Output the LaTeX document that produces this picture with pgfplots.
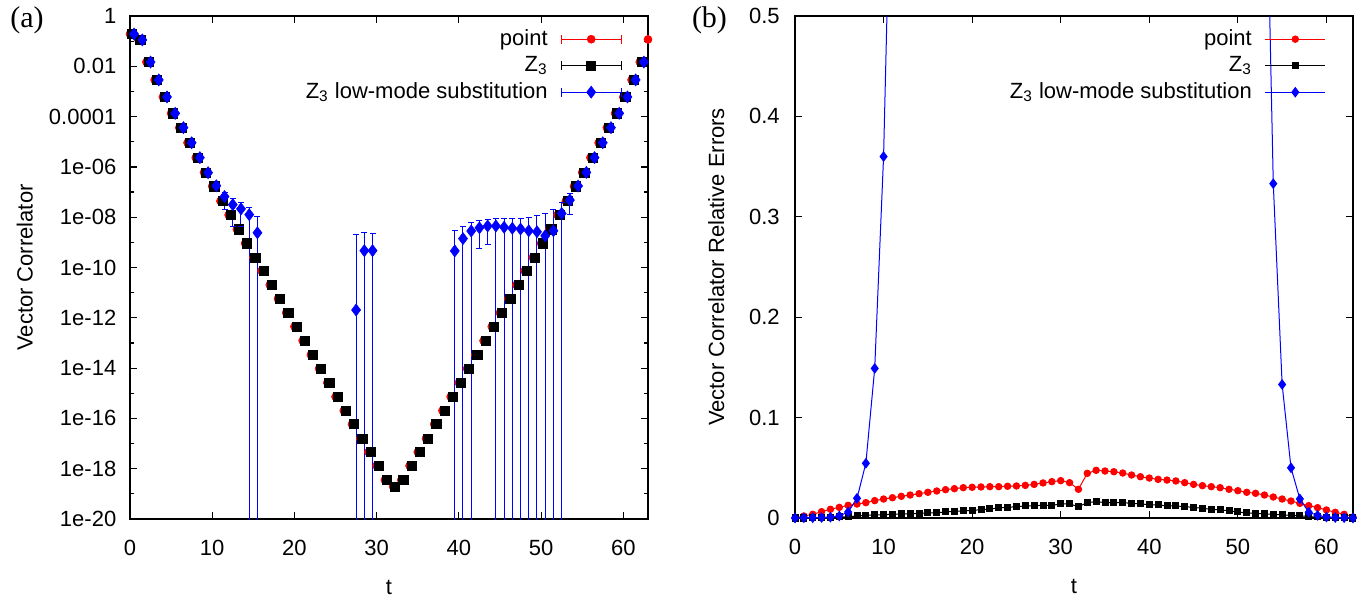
\documentclass[border=0pt]{standalone}
\usepackage{pgfplots}
\pgfplotsset{compat=1.18}
\usepackage{pgfplotstable}
\usepackage{fontspec}
\setmainfont{Liberation Sans}
\newfontfamily\seriffont{Liberation Serif}

% (a) correlator: point and Z3 (same estimate)
\pgfplotstableread{
t point z3
0 1.91e-1 1.91e-1
1 1.17e-1 1.17e-1
2 1.48e-2 1.48e-2
3 2.88e-3 2.88e-3
4 6.03e-4 6.03e-4
5 1.35e-4 1.35e-4
6 3.63e-5 3.63e-5
7 9.12e-6 9.12e-6
8 2.34e-6 2.34e-6
9 6.03e-7 6.03e-7
10 1.70e-7 1.70e-7
11 4.37e-8 4.37e-8
12 1.23e-8 1.23e-8
13 3.31e-9 3.31e-9
14 9.12e-10 9.12e-10
15 2.51e-10 2.51e-10
16 7.41e-11 7.41e-11
17 2.04e-11 2.04e-11
18 5.75e-12 5.75e-12
19 1.58e-12 1.58e-12
20 4.47e-13 4.47e-13
21 1.23e-13 1.23e-13
22 3.39e-14 3.39e-14
23 9.55e-15 9.55e-15
24 2.63e-15 2.63e-15
25 7.24e-16 7.24e-16
26 2.04e-16 2.04e-16
27 5.89e-17 5.89e-17
28 1.58e-17 1.58e-17
29 4.57e-18 4.57e-18
30 1.32e-18 1.32e-18
31 3.55e-19 3.55e-19
32 1.95e-19 1.95e-19
33 3.55e-19 3.55e-19
34 1.32e-18 1.32e-18
35 4.57e-18 4.57e-18
36 1.58e-17 1.58e-17
37 5.89e-17 5.89e-17
38 2.04e-16 2.04e-16
39 7.24e-16 7.24e-16
40 2.63e-15 2.63e-15
41 9.55e-15 9.55e-15
42 3.39e-14 3.39e-14
43 1.23e-13 1.23e-13
44 4.47e-13 4.47e-13
45 1.58e-12 1.58e-12
46 5.75e-12 5.75e-12
47 2.04e-11 2.04e-11
48 7.41e-11 7.41e-11
49 2.51e-10 2.51e-10
50 9.12e-10 9.12e-10
51 3.31e-9 3.31e-9
52 1.23e-8 1.23e-8
53 4.37e-8 4.37e-8
54 1.70e-7 1.70e-7
55 6.03e-7 6.03e-7
56 2.34e-6 2.34e-6
57 9.12e-6 9.12e-6
58 3.63e-5 3.63e-5
59 1.35e-4 1.35e-4
60 6.03e-4 6.03e-4
61 2.88e-3 2.88e-3
62 1.48e-2 1.48e-2
63 1.17e-1 1.17e-1
}\corrtab

% (a) Z3 low-mode substitution (only positive values)
\pgfplotstableread{
t lms
0 1.91e-1
1 1.12e-1
2 1.48e-2
3 2.88e-3
4 6.03e-4
5 1.35e-4
6 3.63e-5
7 9.12e-6
8 2.34e-6
9 5.89e-7
10 1.78e-7
11 6.61e-8
12 3.16e-8
13 2.14e-8
14 1.26e-8
15 2.40e-9
27 2.04e-12
28 4.68e-10
29 4.68e-10
39 4.57e-10
40 1.41e-9
41 2.82e-9
42 3.80e-9
43 4.47e-9
44 4.47e-9
45 3.98e-9
46 3.63e-9
47 3.39e-9
48 2.88e-9
49 2.63e-9
50 1.82e-9
51 2.88e-9
52 1.41e-8
53 4.79e-8
54 1.74e-7
55 6.03e-7
56 2.34e-6
57 9.12e-6
58 3.63e-5
59 1.35e-4
60 6.03e-4
61 2.88e-3
62 1.48e-2
63 1.17e-1
}\lmstab

% (b) relative errors
\pgfplotstableread{
t point z3
0 0 0
1 0.0020 0
2 0.0037 0.0003
3 0.0063 0.0005
4 0.0087 0.0008
5 0.0106 0.0010
6 0.0126 0.0013
7 0.0139 0.0020
8 0.0153 0.0026
9 0.0173 0.0030
10 0.0189 0.0033
11 0.0202 0.0037
12 0.0216 0.0040
13 0.0229 0.0043
14 0.0242 0.0046
15 0.0256 0.0050
16 0.0269 0.0053
17 0.0282 0.0060
18 0.0292 0.0066
19 0.0302 0.0070
20 0.0306 0.0076
21 0.0309 0.0083
22 0.0312 0.0090
23 0.0312 0.0100
24 0.0316 0.0106
25 0.0319 0.0113
26 0.0325 0.0120
27 0.0335 0.0123
28 0.0349 0.0126
29 0.0362 0.0126
30 0.0372 0.0140
31 0.0352 0.0140
32 0.0286 0.0113
33 0.0445 0.0153
34 0.0475 0.0163
35 0.0468 0.0153
36 0.0461 0.0153
37 0.0448 0.0153
38 0.0428 0.0146
39 0.0411 0.0140
40 0.0398 0.0133
41 0.0385 0.0130
42 0.0378 0.0120
43 0.0369 0.0120
44 0.0352 0.0113
45 0.0335 0.0106
46 0.0322 0.0096
47 0.0312 0.0087
48 0.0302 0.0080
49 0.0286 0.0073
50 0.0272 0.0060
51 0.0256 0.0050
52 0.0246 0.0046
53 0.0229 0.0040
54 0.0209 0.0037
55 0.0189 0.0030
56 0.0169 0.0026
57 0.0146 0.0023
58 0.0123 0.0013
59 0.0103 0.0010
60 0.0080 0.0007
61 0.0057 0.0005
62 0.0037 0.0003
63 0.0010 0
}\errtab

\pgfplotstableread{
t lms
0 0
1 0.0002
2 0.0003
3 0.0005
4 0.0008
5 0.0020
6 0.0060
7 0.0196
8 0.0545
9 0.149
10 0.360
11 0.730
53 0.750
54 0.333
55 0.133
56 0.050
57 0.019
58 0.0057
59 0.0026
60 0.0010
61 0.0005
62 0.0003
63 0
}\lmserrtab

\begin{document}
\fontsize{11bp}{13bp}\selectfont
\begin{tikzpicture}
\useasboundingbox (0,0) rectangle (685bp,301bp);
\pgfplotsset{
  common/.style={
    scale only axis,
    anchor=south west,
    tick align=inside,
    major tick length=3.5bp,
    minor tick length=2bp,
    axis line style={line width=0.75bp},
    every tick/.style={black, line width=0.6bp},
    xmin=0, xmax=63,
    xtick={0,10,20,30,40,50,60},
    xticklabels={0,10,20,30,40,50,60},
    xticklabel style={yshift=-6.8bp},
    xlabel={t},
    xlabel style={at={(axis description cs:0.5,0)}, anchor=base, yshift=-37.5bp},
    legend cell align=right,
    legend plot pos=right,
    legend style={draw=none, fill=none, anchor=north east, inner sep=0pt,
      column sep=6bp, row sep=0pt,
      nodes={inner xsep=0.5bp, inner ysep=1.125bp, text height=8.5bp, text depth=2.5bp}},
  }
}

\node[anchor=west, inner sep=0pt, font=\seriffont\fontsize{15bp}{15bp}\selectfont] at (5bp,291bp) {(a)};
\node[anchor=west, inner sep=0pt, font=\seriffont\fontsize{15bp}{15bp}\selectfont] at (345.8bp,291bp) {(b)};

\begin{axis}[common,
  at={(65bp,41.5bp)}, width=259bp, height=251.5bp,
  ymode=log, ymin=1e-20, ymax=1,
  ytick={1e-20,1e-18,1e-16,1e-14,1e-12,1e-10,1e-8,1e-6,1e-4,1e-2,1},
  yticklabels={1e-20,1e-18,1e-16,1e-14,1e-12,1e-10,1e-08,1e-06,0.0001,0.01,1},
  minor ytick={1e-19,1e-17,1e-15,1e-13,1e-11,1e-9,1e-7,1e-5,1e-3,1e-1},
  yticklabel style={xshift=-3bp},
  ylabel={Vector Correlator},
  ylabel style={at={(axis description cs:-0.188,0.5)}, anchor=base},
  legend style={at={(0.95,0.981)}},
  legend image code/.code={
    \draw[#1, mark=none, line width=0.5bp] (0bp,0bp) -- (30bp,0bp) (0bp,-2.25bp) -- (0bp,2.25bp) (30bp,-2.25bp) -- (30bp,2.25bp);
    \draw[#1, only marks] plot coordinates {(15bp,0bp)};
  },
]
\addplot[red, only marks, mark=*, mark size=2bp, mark options={line width=0.3bp}] table[x=t, y=point] \corrtab;
\addlegendentry{point}
\addplot[black, only marks, mark=square*, mark size=2.3bp, mark options={line width=0.3bp}, x filter/.expression={x+0.25}] table[x=t, y=z3] \corrtab;
\addlegendentry{Z\textsubscript{3}}
\addplot[blue, only marks, mark=diamond*, mark size=3bp, mark options={line width=0.3bp}, x filter/.expression={x+0.5}] table[x=t, y=lms] \lmstab;
\addlegendentry{Z\textsubscript{3} low-mode substitution}
% error bars of the low-mode substitution (lower ends below the axis are negative)
\addplot[blue, line width=0.5bp, forget plot, unbounded coords=jump, x filter/.expression={x+0.5}] coordinates {
(11,1.95e-8)(11,9.77e-8)(11,nan)
(12,4.17e-9)(12,5.50e-8)(12,nan)
(13,4.17e-9)(13,3.80e-8)(13,nan)
(14,1e-30)(14,2.40e-8)(14,nan)
(15,1e-30)(15,1.05e-8)(15,nan)
(27,1e-30)(27,2.09e-9)(27,nan)
(28,1e-30)(28,2.40e-9)(28,nan)
(29,1e-30)(29,2.19e-9)(29,nan)
(39,1e-30)(39,3.09e-9)(39,nan)
(40,1e-30)(40,4.37e-9)(40,nan)
(41,1e-30)(41,5.89e-9)(41,nan)
(42,5.75e-10)(42,7.24e-9)(42,nan)
(43,8.51e-10)(43,8.32e-9)(43,nan)
(44,1e-30)(44,8.51e-9)(44,nan)
(45,1e-30)(45,8.71e-9)(45,nan)
(46,1e-30)(46,8.71e-9)(46,nan)
(47,1e-30)(47,8.71e-9)(47,nan)
(48,1e-30)(48,9.77e-9)(48,nan)
(49,1e-30)(49,1.20e-8)(49,nan)
(50,1e-30)(50,1.41e-8)(50,nan)
(51,1e-30)(51,2.04e-8)(51,nan)
(52,1e-30)(52,3.89e-8)(52,nan)
(53,1.32e-8)(53,8.71e-8)
};
\addplot[blue, only marks, mark=-, mark size=1.5bp, mark options={line width=0.5bp}, forget plot, x filter/.expression={x+0.5}] coordinates {
(11,1.95e-8)(11,9.77e-8)(12,4.17e-9)(12,5.50e-8)(13,4.17e-9)(13,3.80e-8)
(14,2.40e-8)(15,1.05e-8)(27,2.09e-9)(28,2.40e-9)(29,2.19e-9)
(39,3.09e-9)(40,4.37e-9)(41,5.89e-9)(42,5.75e-10)(42,7.24e-9)(43,8.51e-10)(43,8.32e-9)
(44,8.51e-9)(45,8.71e-9)(46,8.71e-9)(47,8.71e-9)(48,9.77e-9)(49,1.20e-8)(50,1.41e-8)
(51,2.04e-8)(52,3.89e-8)(53,1.32e-8)(53,8.71e-8)
};
\end{axis}

\begin{axis}[common, clip mode=individual,
  at={(397.5bp,42bp)}, width=279bp, height=251bp,
  ymin=0, ymax=0.5,
  ytick={0,0.1,0.2,0.3,0.4,0.5},
  yticklabels={0,0.1,0.2,0.3,0.4,0.5},
  yticklabel style={xshift=-3.8bp},
  ylabel={Vector Correlator Relative Errors},
  ylabel style={at={(axis description cs:-0.127,0.5)}, anchor=base},
  legend style={at={(0.952,0.981)}},
  legend image code/.code={
    \draw[mark repeat=2, mark phase=2, #1] plot coordinates {(0bp,0bp) (15bp,0bp) (30bp,0bp)};
  },
]
\addplot[red, line width=0.5bp, mark=*, mark size=1.6bp] table[x=t, y=point] \errtab;
\addlegendentry{point}
\addplot[black, line width=0.5bp, mark=square*, mark size=1.5bp] table[x=t, y=z3] \errtab;
\addlegendentry{Z\textsubscript{3}}
% the blue line (clipped at the top of the axis) ...
\addplot[blue, line width=0.5bp, mark=none, forget plot] table[x=t, y=lms] \lmserrtab;
% ... and its markers, only those inside the plotted range
\addplot[blue, only marks, mark=diamond*, mark size=2.3bp, mark options={line width=0.5bp}, forget plot,
  restrict y to domain=0:0.5] table[x=t, y=lms] \lmserrtab;
\addlegendimage{blue, line width=0.5bp, mark=diamond*, mark size=2.3bp}
\addlegendentry{Z\textsubscript{3} low-mode substitution}
\end{axis}
\end{tikzpicture}
\end{document}
